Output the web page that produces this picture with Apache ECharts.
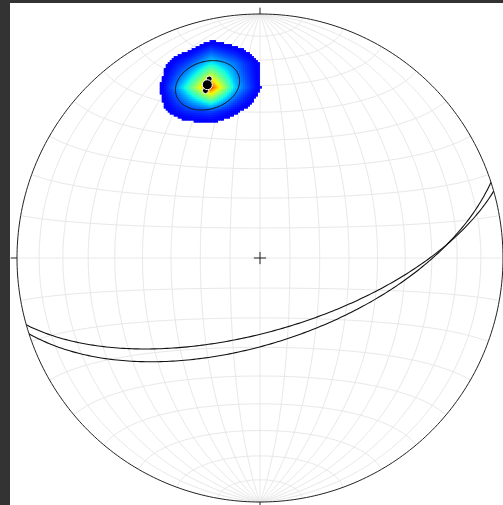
<!DOCTYPE html>
<html><head><meta charset="utf-8">
<script src="https://cdn.jsdelivr.net/npm/echarts@6/dist/echarts.min.js"></script>
<style>
html,body{margin:0;padding:0;background:#333;width:503px;height:505px;overflow:hidden}
#c{position:absolute;left:10px;top:3px;width:493px;height:502px;background:#fff}
</style></head><body><div id="c"></div>
<script>
// ---- data ----
// planes: strike / dip (right-hand rule), degrees
const planeStrikes = [74.1, 71.9];
const planeDips = [65.3, 61.4];
// cone half-angle around the mean pole (deg)
const coneAngles = [9.3];
// points driving the density field (trend, plunge)
const densityTrends = [344.0, 344.3];
const densityPlunges = [25.1, 26.8];
// net graticule (deg)
const meridianDips = [10, 20, 30, 40, 50, 60, 70, 80];
const parallelAngles = [10, 20, 30, 40, 50, 60, 70, 80, 100, 110, 120, 130, 140, 150, 160, 170];
// density settings: node spacing (unit-circle coords), counting radius (deg), kernel floor, power, lowest level
const densityGridStep = [0.1];
const countRadiusDeg = [18.5];
const kernelFloor = [0.1];
const kernelPower = [2];
const lowestLevel = [0.165];

// ---- helpers ----
const D = Math.PI / 180;
function proj(v) { // v = [down, east, north] -> equal-area lower hemisphere, unit circle
  let d = v[0], e = v[1], n = v[2];
  if (d < 0) { d = -d; e = -e; n = -n; }
  const s = Math.sqrt(1 + d);
  return [e / s, n / s];
}
function unproj(u, w) {
  const r2 = u * u + w * w, f = Math.sqrt(Math.max(0, 2 - r2));
  return [1 - r2, u * f, w * f];
}
function lineVec(trend, plunge) {
  const t = trend * D, p = plunge * D;
  return [Math.sin(p), Math.cos(p) * Math.sin(t), Math.cos(p) * Math.cos(t)];
}
function norm(v) { const l = Math.hypot(v[0], v[1], v[2]); return [v[0] / l, v[1] / l, v[2] / l]; }
function cross(a, b) { return [a[1] * b[2] - a[2] * b[1], a[2] * b[0] - a[0] * b[2], a[0] * b[1] - a[1] * b[0]]; }
function dot(a, b) { return a[0] * b[0] + a[1] * b[1] + a[2] * b[2]; }
function greatCircle(strike, dip) {
  const s = strike * D, dd = (strike + 90) * D, dp = dip * D;
  const S = [0, Math.sin(s), Math.cos(s)];
  const Dv = [Math.sin(dp), Math.cos(dp) * Math.sin(dd), Math.cos(dp) * Math.cos(dd)];
  const pts = [];
  for (let a = 0; a <= 180; a += 1) {
    const ca = Math.cos(a * D), sa = Math.sin(a * D);
    pts.push(proj([ca * S[0] + sa * Dv[0], ca * S[1] + sa * Dv[1], ca * S[2] + sa * Dv[2]]));
  }
  return pts;
}
function smallCircle(axis, angle, t0, t1, U, V) {
  const c = Math.cos(angle * D), s = Math.sin(angle * D), pts = [];
  for (let t = t0; t <= t1; t += 2) {
    const ct = Math.cos(t * D), st = Math.sin(t * D);
    pts.push(proj([c * axis[0] + s * (ct * U[0] + st * V[0]),
                   c * axis[1] + s * (ct * U[1] + st * V[1]),
                   c * axis[2] + s * (ct * U[2] + st * V[2])]));
  }
  return pts;
}

// ---- graticule ----
const gratic = [];
meridianDips.forEach(d => { gratic.push(greatCircle(0, d)); gratic.push(greatCircle(180, d)); });
gratic.push(greatCircle(0, 90));
gratic.push(greatCircle(90, 90));
parallelAngles.forEach(a => gratic.push(smallCircle([0, 0, 1], a, -90, 90, [1, 0, 0], [0, 1, 0])));

// ---- poles and mean ----
const poleVecs = planeStrikes.map((s, i) => lineVec((s - 90 + 360) % 360, 90 - planeDips[i]));
const meanVec = norm(poleVecs.reduce((a, v) => [a[0] + v[0], a[1] + v[1], a[2] + v[2]], [0, 0, 0]));
const poleXY = poleVecs.map(proj);
const meanXY = proj(meanVec);
const cU = norm(cross(meanVec, [0, 0, 1])), cV = cross(meanVec, cU);
const cone = smallCircle(meanVec, coneAngles[0], 0, 360, cU, cV);

// ---- density on a regular projected grid, bilinear interpolation ----
const dVecs = densityTrends.map((t, i) => lineVec(t, densityPlunges[i]));
const g = densityGridStep[0], R = countRadiusDeg[0], FL = kernelFloor[0], P = kernelPower[0], EPS = lowestLevel[0];
const NN = Math.round(1 / g);
function nodeVal(i, j) {
  const u = i * g, w = j * g;
  if (u * u + w * w >= 1) return 0;
  const v = unproj(u, w);
  let c = 0;
  dVecs.forEach(p => {
    const th = Math.acos(Math.min(1, Math.abs(dot(p, v)))) / D;
    if (th < R) c += FL + (1 - FL) * Math.pow(1 - th / R, P);
  });
  return c;
}
const nodes = {};
let vmax = 0;
for (let i = -NN; i <= NN; i++) for (let j = -NN; j <= NN; j++) { const c = nodeVal(i, j); nodes[i + ',' + j] = c; if (c > vmax) vmax = c; }
const nv = (i, j) => nodes[i + ',' + j] || 0;
const cell = 2 / 244;
const cells = [];
const mc = dVecs.map(proj).reduce((a, p) => [a[0] + p[0] / dVecs.length, a[1] + p[1] / dVecs.length], [0, 0]);
for (let u = mc[0] - 0.35; u <= mc[0] + 0.35; u += cell) {
  for (let w = mc[1] - 0.35; w <= mc[1] + 0.35; w += cell) {
    if (u * u + w * w >= 1) continue;
    const fi = u / g, fj = w / g, i0 = Math.floor(fi), j0 = Math.floor(fj), a = fi - i0, b = fj - j0;
    const val = nv(i0, j0) * (1 - a) * (1 - b) + nv(i0 + 1, j0) * a * (1 - b) + nv(i0, j0 + 1) * (1 - a) * b + nv(i0 + 1, j0 + 1) * a * b;
    const t = val / vmax;
    if (t > EPS) cells.push([u, w, t]);
  }
}
function jet(x) {
  const ip = pts => { for (let k = 1; k < pts.length; k++) if (x <= pts[k][0]) { const p0 = pts[k - 1], p1 = pts[k]; return p0[1] + (p1[1] - p0[1]) * (x - p0[0]) / (p1[0] - p0[0]); } return pts[pts.length - 1][1]; };
  const r = ip([[0, 0], [0.35, 0], [0.66, 1], [0.89, 1], [1, 0.5]]);
  const gg = ip([[0, 0], [0.125, 0], [0.375, 1], [0.64, 1], [0.91, 0], [1, 0]]);
  const b = ip([[0, 0.5], [0.11, 1], [0.34, 1], [0.65, 0], [1, 0]]);
  return 'rgb(' + Math.round(r * 255) + ',' + Math.round(gg * 255) + ',' + Math.round(b * 255) + ')';
}

// ---- primitive, ticks, cross ----
const prim = [];
for (let t = 0; t <= 360; t += 1) prim.push([Math.sin(t * D), Math.cos(t * D)]);
const tk = 0.026, cr = 0.025;
const ticks = [[[0, 1], [0, 1 + tk]], [[0, -1], [0, -1 - tk]], [[1, 0], [1 + tk, 0]], [[-1, 0], [-1 - tk, 0]],
  [[-cr, 0], [cr, 0]], [[0, -cr], [0, cr]]];

const chart = echarts.init(document.getElementById('c'), null, { renderer: 'canvas' });
const lineS = (data, color, width, z) => ({
  type: 'lines', coordinateSystem: 'cartesian2d', polyline: true, silent: true, clip: false, z: z,
  data: data.map(c => ({ coords: c })), lineStyle: { color: color, width: width, opacity: 1 }, animation: false
});
chart.setOption({
  animation: false,
  backgroundColor: '#fff',
  grid: { left: 7, top: 11, width: 488, height: 488 },
  xAxis: { type: 'value', min: -1, max: 1, show: false },
  yAxis: { type: 'value', min: -1, max: 1, show: false },
  series: [
    lineS(gratic, '#e8e8e8', 1, 1),
    {
      type: 'custom', coordinateSystem: 'cartesian2d', z: 2, silent: true, progressive: 0, clip: false,
      data: cells,
      renderItem: function (params, api) {
        const p = api.coord([api.value(0), api.value(1)]);
        const s = api.size([cell, cell]);
        const c = 0.115 + 0.74 * Math.pow(Math.max(0, (api.value(2) - EPS) / (1 - EPS)), 1.3);
        return { type: 'rect', shape: { x: p[0] - s[0] / 2 - 0.3, y: p[1] - s[1] / 2 - 0.3, width: s[0] + 0.6, height: s[1] + 0.6 }, style: { fill: jet(c) } };
      }
    },
    lineS([prim], '#222', 1, 3),
    lineS(planeStrikes.map((s, i) => greatCircle(s, planeDips[i])), '#111', 1.1, 4),
    lineS([cone], '#111', 1, 5),
    lineS(ticks, '#222', 1, 5),
    { type: 'scatter', z: 6, silent: true, data: poleXY, symbolSize: 6, itemStyle: { color: '#000', borderColor: '#fff', borderWidth: 1, opacity: 1 } },
    { type: 'scatter', z: 7, silent: true, data: [meanXY], symbolSize: 10, itemStyle: { color: '#000', borderColor: '#fff', borderWidth: 1, opacity: 1 } }
  ]
});
</script></body></html>
